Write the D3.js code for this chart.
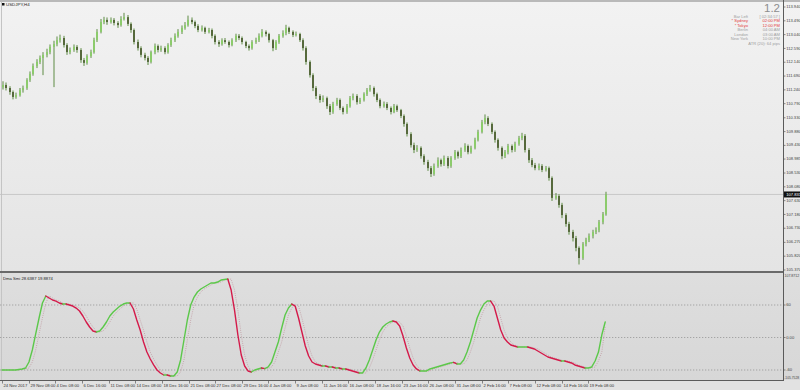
<!DOCTYPE html>
<html><head><meta charset="utf-8">
<script src="https://cdn.jsdelivr.net/npm/d3@7"></script>
<style>html,body{margin:0;padding:0;background:#e6e6e6;overflow:hidden}text{font-family:"Liberation Sans",Arial,sans-serif}</style>
</head><body><svg id="c" width="800" height="390"></svg>
<script>
const symbol = "USDJPY,H4";
const open = [111.32,111.40,111.30,111.17,111.01,111.07,111.23,111.30,111.56,111.76,
112.02,112.15,112.28,112.38,112.47,112.64,112.73,112.86,112.93,112.70,
112.47,112.54,112.64,112.54,112.21,112.12,112.34,112.47,112.86,113.13,
113.45,113.52,113.45,113.52,113.42,113.35,113.55,113.61,113.39,113.19,
112.80,112.60,112.38,112.28,112.15,112.47,112.67,112.54,112.60,112.47,
112.70,112.86,113.00,113.13,113.26,113.35,113.52,113.45,113.32,113.19,
113.26,113.13,113.19,113.00,112.80,112.73,112.86,112.80,112.70,112.86,
113.00,112.93,112.80,112.67,112.60,112.80,112.86,113.00,113.13,113.06,
112.86,112.60,112.80,113.00,113.09,113.26,113.13,113.03,113.06,112.86,
112.60,112.15,111.72,111.30,111.04,110.91,110.97,110.71,110.52,110.78,
110.91,110.65,110.52,110.71,110.97,111.04,110.84,110.91,111.10,111.23,
111.30,111.10,110.91,110.71,110.78,110.65,110.52,110.71,110.58,110.39,
110.13,109.80,109.44,109.28,109.35,109.08,108.89,108.69,108.50,108.76,
108.95,108.82,109.02,108.76,109.02,109.21,109.08,109.28,109.41,109.21,
109.35,109.61,109.87,110.19,110.32,110.13,109.87,109.61,109.35,109.08,
109.21,109.41,109.28,109.48,109.67,109.74,109.28,108.95,108.79,108.69,
108.76,108.63,108.69,108.37,107.72,107.78,107.49,107.16,106.87,106.61,
106.41,106.09,105.76,106.22,106.35,106.48,106.61,106.67,106.93,107.19];
const high = [111.52,111.48,111.36,111.22,111.15,111.30,111.38,111.62,111.84,112.10,
112.24,112.36,112.47,112.58,112.72,112.84,112.98,113.04,113.00,112.76,
112.62,112.72,112.70,112.60,112.28,112.40,112.55,112.94,113.22,113.55,
113.62,113.60,113.60,113.58,113.48,113.64,113.75,113.68,113.44,113.24,
112.88,112.66,112.45,112.34,112.52,112.75,112.72,112.68,112.66,112.76,
112.94,113.08,113.22,113.34,113.45,113.66,113.60,113.50,113.38,113.34,
113.30,113.26,113.24,113.05,112.86,112.92,112.93,112.85,112.92,113.07,
113.06,112.98,112.84,112.72,112.86,112.94,113.08,113.22,113.18,113.10,
112.90,112.86,113.06,113.18,113.36,113.30,113.18,113.14,113.10,112.92,
112.66,112.20,111.78,111.36,111.10,111.06,111.02,110.78,110.85,110.98,
110.96,110.70,110.78,111.04,111.12,111.10,110.98,111.16,111.30,111.40,
111.35,111.15,110.96,110.86,110.84,110.70,110.78,110.76,110.62,110.44,
110.18,109.86,109.52,109.44,109.40,109.14,108.96,108.76,108.84,109.04,
109.00,109.10,109.08,109.08,109.28,109.26,109.36,109.50,109.46,109.42,
109.68,109.94,110.26,110.44,110.38,110.18,109.92,109.66,109.40,109.28,
109.48,109.46,109.55,109.74,109.84,109.80,109.34,109.02,108.86,108.84,
108.82,108.76,108.74,108.42,107.88,107.84,107.56,107.22,106.94,106.68,
106.48,106.14,106.28,106.42,106.56,106.68,106.76,107.00,107.26,107.92];
const low = [111.25,111.22,111.08,110.93,110.95,111.02,111.15,111.24,111.50,111.70,
111.95,112.08,111.72,112.30,112.40,111.33,112.66,112.78,112.62,112.38,
112.40,112.48,112.45,112.12,112.02,112.06,112.28,112.42,112.80,113.08,
113.38,113.36,113.40,113.34,113.26,113.30,113.50,113.32,113.10,112.72,
112.52,112.30,112.20,112.05,112.10,112.40,112.46,112.48,112.40,112.42,
112.64,112.80,112.94,113.06,113.20,113.30,113.38,113.25,113.12,113.14,
113.06,113.08,112.92,112.72,112.64,112.68,112.74,112.62,112.66,112.80,
112.86,112.72,112.60,112.52,112.55,112.74,112.80,112.95,112.98,112.78,
112.50,112.54,112.74,112.94,113.02,113.06,112.96,112.98,112.80,112.52,
112.06,111.64,111.20,110.94,110.82,110.84,110.62,110.42,110.46,110.72,
110.58,110.44,110.46,110.66,110.90,110.76,110.78,110.86,111.04,111.18,
111.02,110.84,110.64,110.66,110.58,110.44,110.48,110.52,110.32,110.04,
109.72,109.36,109.18,109.22,109.00,108.80,108.60,108.40,108.44,108.70,
108.74,108.76,108.68,108.70,108.96,109.00,109.02,109.22,109.14,109.16,
109.30,109.56,109.82,110.12,110.06,109.80,109.52,109.26,108.98,109.02,
109.14,109.20,109.22,109.42,109.60,109.20,108.86,108.72,108.62,108.62,
108.56,108.58,108.28,107.62,107.66,107.40,107.06,106.78,106.52,106.30,
105.98,105.55,105.70,106.14,106.28,106.40,106.54,106.60,106.86,107.14];
const close = [111.40,111.30,111.17,111.01,111.07,111.23,111.30,111.56,111.76,112.02,
112.15,112.28,112.38,112.47,112.64,112.73,112.86,112.93,112.70,112.47,
112.54,112.64,112.54,112.21,112.12,112.34,112.47,112.86,113.13,113.45,
113.52,113.45,113.52,113.42,113.35,113.55,113.61,113.39,113.19,112.80,
112.60,112.38,112.28,112.15,112.47,112.67,112.54,112.60,112.47,112.70,
112.86,113.00,113.13,113.26,113.35,113.52,113.45,113.32,113.19,113.26,
113.13,113.19,113.00,112.80,112.73,112.86,112.80,112.70,112.86,113.00,
112.93,112.80,112.67,112.60,112.80,112.86,113.00,113.13,113.06,112.86,
112.60,112.80,113.00,113.09,113.26,113.13,113.03,113.06,112.86,112.60,
112.15,111.72,111.30,111.04,110.91,110.97,110.71,110.52,110.78,110.91,
110.65,110.52,110.71,110.97,111.04,110.84,110.91,111.10,111.23,111.30,
111.10,110.91,110.71,110.78,110.65,110.52,110.71,110.58,110.39,110.13,
109.80,109.44,109.28,109.35,109.08,108.89,108.69,108.50,108.76,108.95,
108.82,109.02,108.76,109.02,109.21,109.08,109.28,109.41,109.21,109.35,
109.61,109.87,110.19,110.32,110.13,109.87,109.61,109.35,109.08,109.21,
109.41,109.28,109.48,109.67,109.74,109.28,108.95,108.79,108.69,108.76,
108.63,108.69,108.37,107.72,107.78,107.49,107.16,106.87,106.61,106.41,
106.09,105.76,106.22,106.35,106.48,106.61,106.67,106.93,107.19,107.83];
const smi = [-60.0,-60.0,-60.0,-60.0,-60.0,-59.0,-58.1,-56.3,-45.2,-23.1,
6.5,36.0,63.7,76.6,72.9,69.2,67.3,63.7,61.8,61.8,
60.0,58.1,54.4,48.9,39.7,28.6,19.4,12.0,10.1,12.0,
19.4,28.6,39.7,47.0,52.6,58.1,61.8,63.7,63.7,52.6,
32.3,13.8,-8.3,-26.8,-39.7,-50.7,-60.0,-65.5,-69.2,-69.2,
-71.0,-71.0,-63.7,-41.5,-4.6,32.3,60.0,74.7,84.0,89.5,
93.2,96.9,100.6,100.6,102.4,106.1,107.0,107.9,87.6,50.7,
4.6,-32.3,-52.6,-61.8,-63.7,-60.0,-58.1,-56.3,-57.5,-54.4,
-45.2,-26.8,-8.3,17.5,41.5,54.4,61.8,58.1,36.0,10.1,
-15.7,-34.1,-45.2,-48.9,-50.7,-52.6,-52.6,-54.4,-54.4,-56.3,
-56.3,-58.1,-58.1,-60.0,-61.8,-63.7,-65.5,-65.5,-56.3,-41.5,
-23.1,-4.6,10.1,19.4,24.9,28.6,30.4,28.6,21.2,2.8,
-19.4,-37.8,-50.7,-58.1,-61.8,-61.8,-61.8,-58.1,-56.3,-54.4,
-52.6,-50.7,-48.9,-47.0,-46.0,-48.9,-48.9,-41.5,-26.8,-8.3,
13.8,36.0,50.7,61.8,67.3,67.3,58.1,36.0,13.8,-0.9,
-8.3,-13.8,-15.7,-17.5,-17.5,-17.5,-17.5,-19.4,-21.2,-24.9,
-28.6,-32.3,-36.0,-37.8,-39.7,-41.5,-43.4,-43.4,-45.2,-47.0,
-50.7,-52.6,-54.4,-56.3,-56.3,-54.4,-43.4,-26.8,5.0,28.6];
const signal = [-60.0,-60.0,-60.0,-60.0,-60.0,-60.0,-59.0,-58.1,-56.3,-45.2,
-23.1,6.5,36.0,63.7,76.6,72.9,69.2,67.3,63.7,61.8,
61.8,60.0,58.1,54.4,48.9,39.7,28.6,19.4,12.0,10.1,
12.0,19.4,28.6,39.7,47.0,52.6,58.1,61.8,63.7,63.7,
52.6,32.3,13.8,-8.3,-26.8,-39.7,-50.7,-60.0,-65.5,-69.2,
-69.2,-71.0,-71.0,-63.7,-41.5,-4.6,32.3,60.0,74.7,84.0,
89.5,93.2,96.9,100.6,100.6,102.4,106.1,107.0,107.9,87.6,
50.7,4.6,-32.3,-52.6,-61.8,-63.7,-60.0,-58.1,-56.3,-57.5,
-54.4,-45.2,-26.8,-8.3,17.5,41.5,54.4,61.8,58.1,36.0,
10.1,-15.7,-34.1,-45.2,-48.9,-50.7,-52.6,-52.6,-54.4,-54.4,
-56.3,-56.3,-58.1,-58.1,-60.0,-61.8,-63.7,-65.5,-65.5,-56.3,
-41.5,-23.1,-4.6,10.1,19.4,24.9,28.6,30.4,28.6,21.2,
2.8,-19.4,-37.8,-50.7,-58.1,-61.8,-61.8,-61.8,-58.1,-56.3,
-54.4,-52.6,-50.7,-48.9,-47.0,-46.0,-48.9,-48.9,-41.5,-26.8,
-8.3,13.8,36.0,50.7,61.8,67.3,67.3,58.1,36.0,13.8,
-0.9,-8.3,-13.8,-15.7,-17.5,-17.5,-17.5,-17.5,-19.4,-21.2,
-24.9,-28.6,-32.3,-36.0,-37.8,-39.7,-41.5,-43.4,-43.4,-45.2,
-47.0,-50.7,-52.6,-54.4,-56.3,-56.3,-54.4,-43.4,-26.8,19.9];
const priceTicks = ["113.940","113.490","113.040","112.590","112.140","111.690","111.240","110.790","110.330","109.880","109.430","108.985","108.530","108.080","107.630","107.180","106.730","106.270","105.820","105.370"];
const currentPrice = 107.831;
const dateLabels = ["24 Nov 2017","29 Nov 08:00","4 Dec 08:00","6 Dec 16:00","11 Dec 08:00","14 Dec 08:00","18 Dec 16:00","21 Dec 08:00","27 Dec 08:00","29 Dec 16:00","4 Jan 08:00","9 Jan 08:00","11 Jan 16:00","16 Jan 08:00","18 Jan 16:00","23 Jan 16:00","26 Jan 08:00","31 Jan 08:00","2 Feb 16:00","7 Feb 08:00","12 Feb 08:00","14 Feb 16:00","19 Feb 08:00"];
const smiLevels = [60, 0, -60];
const smiLevelLabels = ["60", "0.00", "-60"];
const smiMaxLabel = "107.8712", smiMinLabel = "-105.7528";
const smiTitle = "Dma Smi 28.6387 19.8874";
const spreadText = "1.2";
const infoLabels = ["Bar Left","* Sydney","* Tokyo","Berlin","London","New York"];
const infoValues = ["[ 02:34:57 ]","02:00 PM","12:00 PM","04:00 AM","03:00 AM","10:00 PM"];
const infoHighlight = [false,true,true,false,false,false];
const atrText = "ATR (20): 64 pips";

const W = 800, H = 390, AX = 783;
const MAIN_T = 2, MAIN_B = 271, SUB_T = 273, SUB_B = 380;
const svg = d3.select("#c");
const defs = svg.append("defs");
const gr = defs.append("linearGradient").attr("id","bgMain").attr("x1",0).attr("y1",0).attr("x2",0).attr("y2",1);
gr.append("stop").attr("offset","0%").attr("stop-color","#f2f2f2");
gr.append("stop").attr("offset","100%").attr("stop-color","#e4e4e4");
const gr2 = defs.append("linearGradient").attr("id","bgSub").attr("x1",0).attr("y1",0).attr("x2",0).attr("y2",1);
gr2.append("stop").attr("offset","0%").attr("stop-color","#dedede");
gr2.append("stop").attr("offset","100%").attr("stop-color","#d7d7d7");
defs.append("clipPath").attr("id","clipMain").append("rect").attr("x",0).attr("y",MAIN_T).attr("width",AX).attr("height",MAIN_B-MAIN_T);
defs.append("clipPath").attr("id","clipSub").append("rect").attr("x",0).attr("y",SUB_T).attr("width",AX).attr("height",SUB_B-SUB_T);

// small text helper: draws at 2x size and scales down (avoids minimum font size clamping)
function txt(px, py, s, size, fill, anchor, baseline){
  const g = svg.append("g").attr("transform",`translate(${px},${py}) scale(0.5)`);
  const t = g.append("text").attr("x",0).attr("y",0).attr("font-size",size*2).attr("fill",fill).text(s);
  if (anchor) t.attr("text-anchor",anchor);
  if (baseline) t.attr("dominant-baseline",baseline);
  return t;
}

svg.append("rect").attr("width",W).attr("height",H).attr("fill","#e2e2e2");
svg.append("rect").attr("x",0).attr("y",MAIN_T).attr("width",W).attr("height",MAIN_B-MAIN_T).attr("fill","url(#bgMain)");
svg.append("rect").attr("x",0).attr("y",SUB_T).attr("width",W).attr("height",SUB_B-SUB_T).attr("fill","url(#bgSub)");
svg.append("rect").attr("x",0).attr("y",0).attr("width",W).attr("height",2).attr("fill","#b9b9b9");
svg.append("line").attr("x1",1.5).attr("x2",1.5).attr("y1",MAIN_T).attr("y2",SUB_B).attr("stroke","#c4c4c4").attr("stroke-width",1);

const n = close.length;
const x = d3.scaleLinear().domain([0, n-1]).range([2, 605.2]);
const y = d3.scaleLinear().domain([105.37, 113.94]).range([270, 7]);
const ys = d3.scaleLinear().domain([-60, 60]).range([370, 305]);
const barsPerLabel = 7.908;

// current price line
svg.append("line").attr("x1",0).attr("x2",AX).attr("y1",y(currentPrice)).attr("y2",y(currentPrice))
  .attr("stroke","#c2c2c2").attr("stroke-width",0.8);

// candles
const gm = svg.append("g").attr("clip-path","url(#clipMain)");
const idx = d3.range(n);
gm.selectAll("rect.w").data(idx).join("rect").attr("class","w")
  .attr("x",i=>Math.round(x(i))+0.5).attr("width",1)
  .attr("y",i=>y(high[i])).attr("height",i=>Math.max(1,y(low[i])-y(high[i])))
  .attr("fill","#5f8c44");
gm.selectAll("rect.b").data(idx).join("rect").attr("class","b")
  .attr("x",i=>Math.round(x(i))).attr("width",2)
  .attr("y",i=>y(Math.max(open[i],close[i])))
  .attr("height",i=>Math.max(1,Math.abs(y(open[i])-y(close[i]))))
  .attr("fill",i=>close[i]>=open[i]?"#8ccb6c":"#56693c");

// title
svg.append("rect").attr("x",2).attr("y",3).attr("width",2.5).attr("height",2.5).attr("fill","#111");
txt(6, 6.4, symbol, 4.4, "#222");

// info panel
svg.append("text").attr("x",780).attr("y",11.6).attr("text-anchor","end").attr("font-size",11.5).attr("fill","#8d8d8d").text(spreadText);
infoLabels.forEach((t,k)=>{
  const yy = 17.8 + k*4.5;
  const col = infoHighlight[k] ? "#e23a3a" : "#a0a0a0";
  txt(748, yy, t, 4.1, col, "end");
  txt(780, yy, infoValues[k], 4.1, col, "end");
});
txt(780, 17.8+6*4.5, atrText, 4.1, "#a0a0a0", "end");

// sub panel
svg.append("rect").attr("x",0).attr("y",MAIN_B).attr("width",AX).attr("height",2).attr("fill","#6a6a6a");
svg.append("line").attr("x1",0).attr("x2",AX).attr("y1",SUB_B+0.5).attr("y2",SUB_B+0.5).attr("stroke","#5c5c5c").attr("stroke-width",1);
smiLevels.forEach(v=>{
  svg.append("line").attr("x1",0).attr("x2",AX).attr("y1",ys(v)).attr("y2",ys(v))
    .attr("stroke","#8e8e8e").attr("stroke-width",0.7).attr("stroke-dasharray","1.3,1.7");
});
const gs = svg.append("g").attr("clip-path","url(#clipSub)");
const line = d3.line().x(d=>x(d[0])).y(d=>ys(d[1]));
gs.append("path").attr("d", line(signal.map((v,i)=>[i,v]))).attr("fill","none")
  .attr("stroke","#c4a2a8").attr("stroke-width",0.9).attr("stroke-dasharray","1,1.2");
const green = "#5cc84a", red = "#d41a4a";
let runs = [], cur = null;
for (let i=1;i<n;i++){
  const up = smi[i] >= smi[i-1];
  if (!cur || cur.up !== up){ cur = {up, pts:[[i-1,smi[i-1]]]}; runs.push(cur); }
  cur.pts.push([i,smi[i]]);
}
runs.forEach(r=>{
  gs.append("path").attr("d",line(r.pts)).attr("fill","none")
    .attr("stroke", r.up?green:red).attr("stroke-width",1.4).attr("stroke-linejoin","round").attr("stroke-linecap","round");
});
txt(3, 279.5, smiTitle, 4.2, "#222");

// right axis
svg.append("line").attr("x1",AX+0.5).attr("x2",AX+0.5).attr("y1",0).attr("y2",SUB_B+1).attr("stroke","#5a5a5a").attr("stroke-width",1);
priceTicks.forEach(t=>{
  const yy = y(+t);
  svg.append("line").attr("x1",AX).attr("x2",AX+2.5).attr("y1",yy).attr("y2",yy).attr("stroke","#5a5a5a").attr("stroke-width",0.7);
  txt(AX+3.2, yy, t, 4.1, "#444", null, "middle");
});
const cy = y(currentPrice);
svg.append("rect").attr("x",AX+1).attr("y",cy-3).attr("width",W-AX-1).attr("height",6).attr("fill","#111");
txt(AX+3.2, cy, currentPrice.toFixed(3), 4.1, "#fff", null, "middle");
txt(AX+1.5, 275.6, smiMaxLabel, 3.5, "#444", null, "middle");
smiLevels.forEach((v,k)=>{
  svg.append("line").attr("x1",AX).attr("x2",AX+2.5).attr("y1",ys(v)).attr("y2",ys(v)).attr("stroke","#5a5a5a").attr("stroke-width",0.7);
  txt(AX+3.2, ys(v), smiLevelLabels[k], 4.1, "#444", null, "middle");
});
txt(AX+1.2, 378.2, smiMinLabel, 3.3, "#444", null, "middle");

// time axis
dateLabels.forEach((t,k)=>{
  const xx = Math.round(x(k*barsPerLabel))+0.5;
  svg.append("line").attr("x1",xx).attr("x2",xx).attr("y1",SUB_B+1).attr("y2",SUB_B+3.5).attr("stroke","#5a5a5a").attr("stroke-width",0.7);
  txt(xx+1, 385.6, t, 4.2, "#333", null, "middle");
});
</script></body></html>
